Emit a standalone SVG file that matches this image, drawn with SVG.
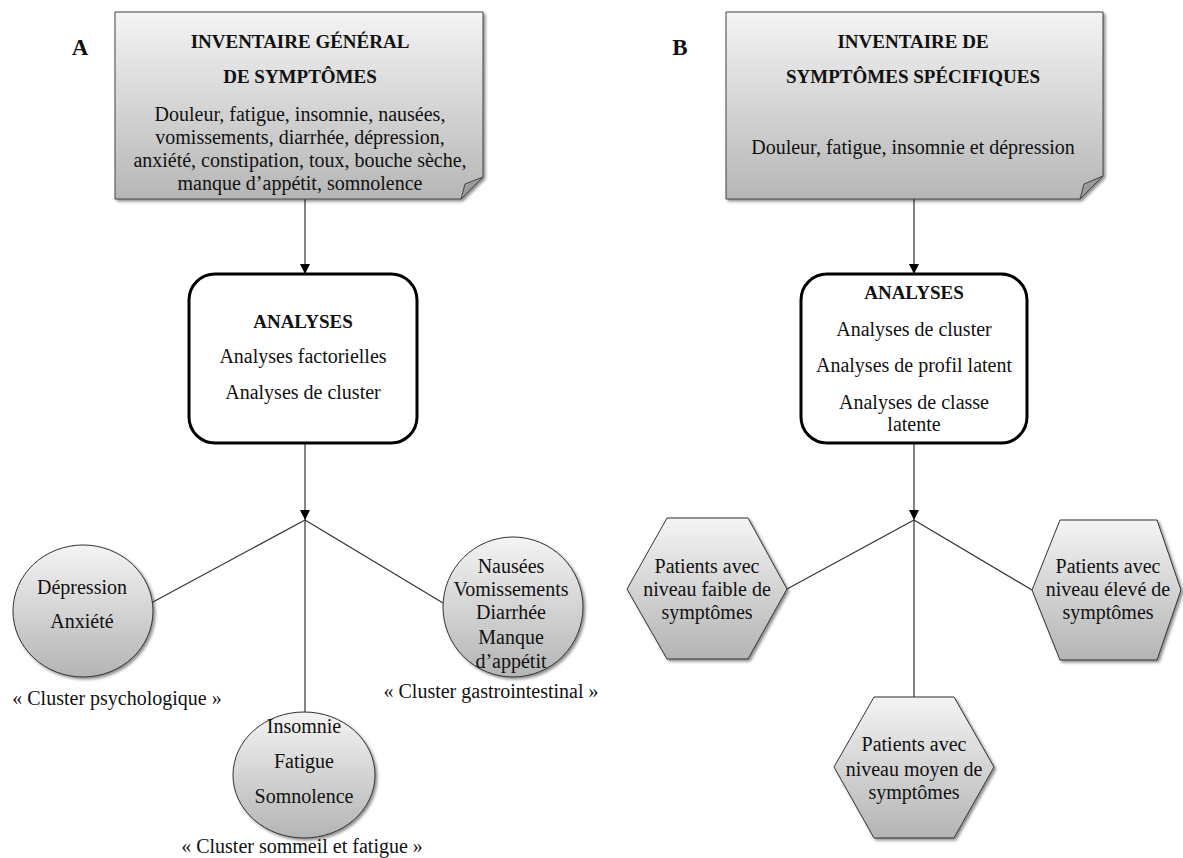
<svg xmlns="http://www.w3.org/2000/svg" width="1183" height="858" viewBox="0 0 1183 858">
<defs>
<linearGradient id="gNote" x1="0" y1="0" x2="0" y2="1">
<stop offset="0" stop-color="#f4f4f4"/><stop offset="1" stop-color="#b6b6b6"/>
</linearGradient>
<linearGradient id="gShape" x1="0" y1="0" x2="0" y2="1">
<stop offset="0" stop-color="#f4f4f4"/><stop offset="1" stop-color="#b4b4b4"/>
</linearGradient>
<filter id="shadow" x="-10%" y="-10%" width="130%" height="130%">
<feDropShadow dx="2" dy="2" stdDeviation="1.5" flood-color="#000" flood-opacity="0.45"/>
</filter>
<marker id="arrow" viewBox="0 0 10 10" refX="10" refY="5" markerWidth="10" markerHeight="10" markerUnits="userSpaceOnUse" orient="auto">
<path d="M0,0 L10,5 L0,10 Z" fill="#000"/>
</marker>
<style>
text{font-family:"Liberation Serif","Times New Roman",serif;fill:#111;text-anchor:middle}
.t{font-size:20px}
.b{font-size:19px;font-weight:bold}
.lbl{font-size:23px;font-weight:bold}
.note{fill:url(#gNote);stroke:#444;stroke-width:1;filter:url(#shadow)}
.fold{fill:#9c9c9c;stroke:#444;stroke-width:1}
.ana{fill:#fff;stroke:#000;stroke-width:3}
.shape{fill:url(#gShape);stroke:#333;stroke-width:1;filter:url(#shadow)}
.con{stroke:#333;stroke-width:1.2;fill:none}
</style>
</defs>
<rect width="1183" height="858" fill="#fff"/>

<g id="connectors">
<line class="con" x1="305" y1="199" x2="305" y2="274" marker-end="url(#arrow)"/>
<line class="con" x1="305" y1="443" x2="305" y2="520" marker-end="url(#arrow)"/>
<line class="con" x1="305" y1="520" x2="153" y2="602"/>
<line class="con" x1="305" y1="520" x2="305" y2="712"/>
<line class="con" x1="305" y1="520" x2="443" y2="603"/>
<line class="con" x1="914" y1="199" x2="914" y2="274" marker-end="url(#arrow)"/>
<line class="con" x1="914" y1="443" x2="914" y2="520" marker-end="url(#arrow)"/>
<line class="con" x1="914" y1="520" x2="787" y2="589"/>
<line class="con" x1="914" y1="520" x2="914" y2="697"/>
<line class="con" x1="914" y1="520" x2="1032" y2="590"/>
</g>

<g id="label-A"><text class="lbl" x="80" y="55">A</text></g>
<g id="label-B"><text class="lbl" x="680" y="55">B</text></g>

<g id="inventaire-general">
<path class="note" d="M115,12 H483 V177 L461,199 H115 Z"/>
<path class="fold" d="M483,177 L461,199 L465,184 Z"/>
<text class="b" x="300" y="48">INVENTAIRE GÉNÉRAL</text>
<text class="b" x="300" y="83">DE SYMPTÔMES</text>
<text class="t" x="300" y="121">Douleur, fatigue, insomnie, nausées,</text>
<text class="t" x="300" y="144">vomissements, diarrhée, dépression,</text>
<text class="t" x="300" y="167">anxiété, constipation, toux, bouche sèche,</text>
<text class="t" x="300" y="190">manque d’appétit, somnolence</text>
</g>

<g id="inventaire-specifique">
<path class="note" d="M726,12 H1103 V176 L1080,199 H726 Z"/>
<path class="fold" d="M1103,176 L1080,199 L1084,184 Z"/>
<text class="b" x="913" y="48">INVENTAIRE DE</text>
<text class="b" x="913" y="83">SYMPTÔMES SPÉCIFIQUES</text>
<text class="t" x="913" y="154">Douleur, fatigue, insomnie et dépression</text>
</g>

<g id="analyses-A">
<rect class="ana" x="189" y="274" width="228" height="169" rx="26" ry="26"/>
<text class="b" x="303" y="328">ANALYSES</text>
<text class="t" x="303" y="363">Analyses factorielles</text>
<text class="t" x="303" y="399">Analyses de cluster</text>
</g>

<g id="analyses-B">
<rect class="ana" x="801" y="274" width="226" height="169" rx="26" ry="26"/>
<text class="b" x="914" y="299">ANALYSES</text>
<text class="t" x="914" y="336">Analyses de cluster</text>
<text class="t" x="914" y="372">Analyses de profil latent</text>
<text class="t" x="914" y="409">Analyses de classe</text>
<text class="t" x="914" y="431">latente</text>
</g>

<g id="cluster-psychologique">
<ellipse class="shape" cx="83" cy="611" rx="70" ry="66"/>
<text class="t" x="82" y="594">Dépression</text>
<text class="t" x="82" y="628">Anxiété</text>
<text class="t" x="117" y="705">« Cluster psychologique »</text>
</g>

<g id="cluster-sommeil">
<ellipse class="shape" cx="304" cy="775" rx="71" ry="63"/>
<text class="t" x="304" y="733">Insomnie</text>
<text class="t" x="304" y="768">Fatigue</text>
<text class="t" x="304" y="803">Somnolence</text>
<text class="t" x="302" y="853">« Cluster sommeil et fatigue »</text>
</g>

<g id="cluster-gastro">
<ellipse class="shape" cx="513" cy="607" rx="70" ry="70"/>
<text class="t" x="511" y="573">Nausées</text>
<text class="t" x="511" y="596">Vomissements</text>
<text class="t" x="511" y="619">Diarrhée</text>
<text class="t" x="511" y="644">Manque</text>
<text class="t" x="511" y="668">d’appétit</text>
<text class="t" x="491" y="698">« Cluster gastrointestinal »</text>
</g>

<g id="niveau-faible">
<path class="shape" d="M627,589 L667,518 H748 L787,589 L748,659 H667 Z"/>
<text class="t" x="707" y="573">Patients avec</text>
<text class="t" x="707" y="596">niveau faible de</text>
<text class="t" x="707" y="619">symptômes</text>
</g>

<g id="niveau-eleve">
<path class="shape" d="M1032,590 L1060,520 H1157 L1181,590 L1157,660 H1060 Z"/>
<text class="t" x="1108" y="573">Patients avec</text>
<text class="t" x="1108" y="596">niveau élevé de</text>
<text class="t" x="1108" y="619">symptômes</text>
</g>

<g id="niveau-moyen">
<path class="shape" d="M834,767 L874,697 H954 L994,767 L954,838 H874 Z"/>
<text class="t" x="914" y="751">Patients avec</text>
<text class="t" x="914" y="776">niveau moyen de</text>
<text class="t" x="914" y="799">symptômes</text>
</g>
</svg>
